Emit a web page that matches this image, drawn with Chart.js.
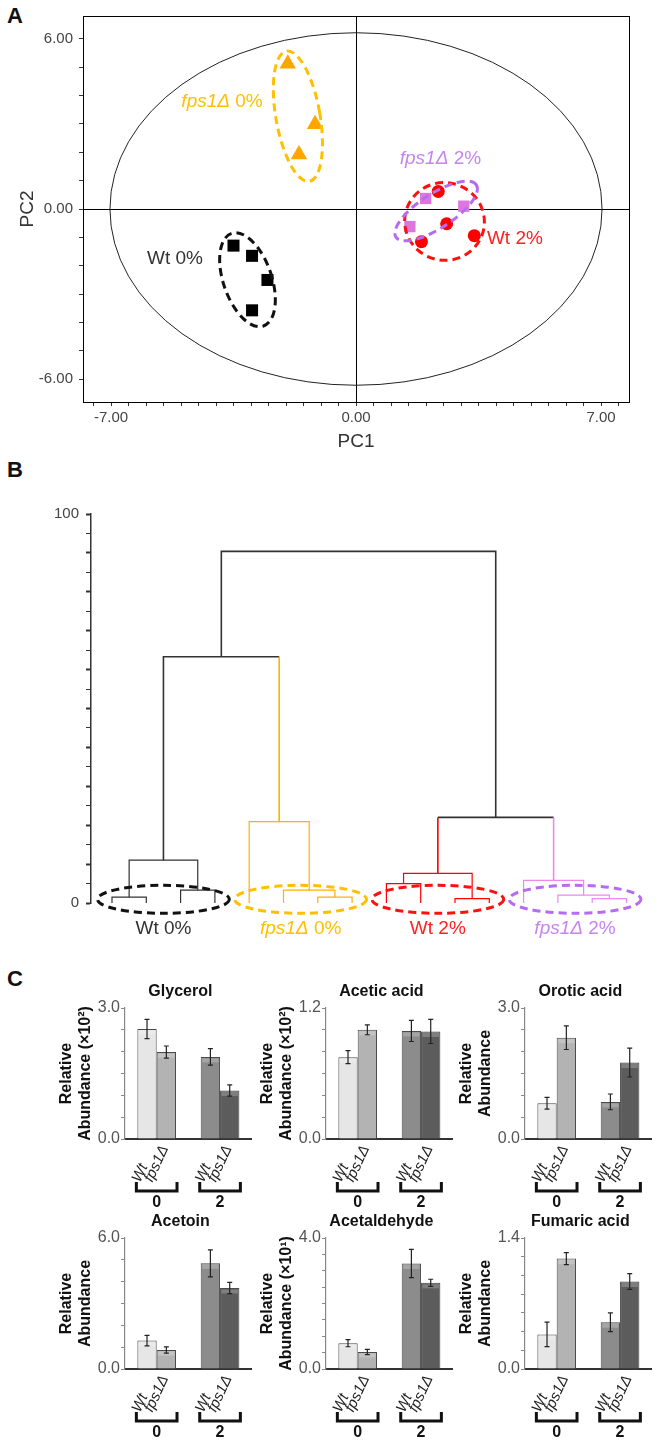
<!DOCTYPE html>
<html lang="en">
<head>
<meta charset="UTF-8">
<title>PCA, HCA and metabolite abundance</title>
<script src="https://cdn.jsdelivr.net/npm/chart.js"></script>
<style>
  body { margin: 0; width: 672px; height: 1443px; overflow: hidden; background: #fff; position: relative;
         font-family: "Liberation Sans", Arial, sans-serif; }
  .box { position: absolute; }
  .tag { position: absolute; font-weight: bold; font-size: 22px; color: #111; }
</style>
</head>
<body>
<div class="tag" style="left:7px;top:3px">A</div>
<div class="tag" style="left:7px;top:457px">B</div>
<div class="tag" style="left:7px;top:966px">C</div>

<div class="box" style="left:0;top:0"><canvas id="pca" width="672" height="455"></canvas></div>
<div class="box" style="left:0;top:480px"><canvas id="dendro" width="672" height="470"></canvas></div>
<div class="box" style="left:50px;top:980px"><canvas id="bar0" width="222" height="234"></canvas></div>
<div class="box" style="left:251px;top:980px"><canvas id="bar1" width="222" height="234"></canvas></div>
<div class="box" style="left:450px;top:980px"><canvas id="bar2" width="222" height="234"></canvas></div>
<div class="box" style="left:50px;top:1210px"><canvas id="bar3" width="222" height="234"></canvas></div>
<div class="box" style="left:251px;top:1210px"><canvas id="bar4" width="222" height="234"></canvas></div>
<div class="box" style="left:450px;top:1210px"><canvas id="bar5" width="222" height="234"></canvas></div>

<script>
// ---------- data ----------
// A: PCA scores (PC1, PC2) per sample
const groupStrain = ["Wt", "fps1Δ", "Wt", "fps1Δ"];
const groupPct = ["0%", "0%", "2%", "2%"];
const wt0PC1 = [-3.50, -2.97, -2.53, -2.97];
const wt0PC2 = [-1.29, -1.65, -2.50, -3.57];
const fps0PC1 = [-1.95, -1.17, -1.63];
const fps0PC2 = [5.12, 2.99, 1.92];
const wt2PC1 = [2.35, 2.59, 3.38, 1.87];
const wt2PC2 = [0.62, -0.52, -0.94, -1.15];
const fps2PC1 = [1.99, 3.08, 1.54];
const fps2PC2 = [0.37, 0.10, -0.62];
const pcaLabelX = [-7, 0, 7];
const pcaLabelY = [-6, 0, 6];
const pcaTicksX = [-7.5, -7, -6.5, -6, -5.5, -5, -4.5, -4, -3.5, -3, -2.5, -2, -1.5, -1, -0.5, 0,
                   0.5, 1, 1.5, 2, 2.5, 3, 3.5, 4, 4.5, 5, 5.5, 6, 6.5, 7, 7.5];
const pcaTicksY = [-6, -5, -4, -3, -2, -1, 0, 1, 2, 3, 4, 5, 6];
// Hotelling T2 ellipse half axes (PC1, PC2)
const t2Half = [7.03, 6.21];
// group ellipses (Wt 0, fps1 0, Wt 2, fps1 2): centre, half axes in PC1 units, tilt (deg)
const ellCx = [-3.10, -1.66, 2.53, 2.29];
const ellCy = [-2.49, 3.27, -0.44, -0.07];
const ellA = [0.69, 0.63, 1.14, 1.37];
const ellB = [1.40, 1.89, 1.11, 0.49];
const ellTilt = [-19, -10, 10, -33];

// B: dendrogram (16 samples, merges listed in order, new node ids start at 16)
const leafGroup = [0, 0, 0, 0, 1, 1, 1, 1, 2, 2, 2, 2, 3, 3, 3, 3];
const mergeA = [0, 2, 16, 6, 5, 4, 8, 10, 22, 14, 13, 12, 18, 24, 28];
const mergeB = [1, 3, 17, 7, 19, 20, 9, 11, 23, 15, 25, 26, 21, 27, 29];
const mergeH = [1.5, 3.3, 11.0, 1.5, 3.3, 20.9, 5.0, 1.1, 7.6, 1.1, 2.0, 5.8, 63.3, 22.0, 90.4];
const dendroLabels = [0, 100];

// C: relative abundance, order Wt 0, fps1Δ 0, Wt 2, fps1Δ 2
const metabolites = ["Glycerol", "Acetic acid", "Orotic acid", "Acetoin", "Acetaldehyde", "Fumaric acid"];
const units = ["(×10²)", "(×10²)", "", "", "(×10¹)", ""];
const axisMax = [3.0, 1.2, 3.0, 6.0, 4.0, 1.4];
const axisStep = [0.5, 0.2, 0.5, 1.0, 0.5, 0.2];
const means = [
  [2.52, 1.99, 1.88, 1.11],
  [0.75, 1.00, 0.99, 0.985],
  [0.82, 2.32, 0.85, 1.75],
  [1.30, 0.87, 4.84, 3.71],
  [0.79, 0.52, 3.22, 2.63],
  [0.37, 1.18, 0.50, 0.935]
];
const errs = [
  [0.22, 0.14, 0.19, 0.13],
  [0.06, 0.045, 0.097, 0.11],
  [0.135, 0.27, 0.18, 0.33],
  [0.24, 0.14, 0.62, 0.26],
  [0.11, 0.08, 0.43, 0.11],
  [0.13, 0.064, 0.10, 0.085]
];
const ethanol = ["0", "2"];
const strains = ["Wt", "fps1Δ"];

// ---------- styling ----------
const FONT = "'Liberation Sans', Arial, sans-serif";
Chart.defaults.font.family = FONT;
Chart.defaults.animation = false;
Chart.defaults.events = [];
Chart.defaults.plugins.legend.display = false;
Chart.defaults.plugins.tooltip.enabled = false;

const groupColor = ["#000000", "#FFA500", "#FF0000", "#DD77DD"];
const ringColor = ["#111111", "#FFC000", "#FF1010", "#B56CF2"];
const textColor = ["#333333", "#FFC000", "#FF2020", "#C585F0"];
const lineColor = ["#333333", "#FFB000", "#FF0000", "#EE88EE"];
const markers = ["rect", "triangle", "circle", "rect"];
const markerSize = [8.5, 9.5, 6.5, 8];

function drawGroupText(ctx, g, x, y, size, align) {
  const it = "italic " + size + "px " + FONT;
  const up = size + "px " + FONT;
  const first = groupStrain[g];
  const rest = " " + groupPct[g];
  const firstFont = first === "Wt" ? up : it;
  ctx.font = firstFont;
  const w1 = ctx.measureText(first).width;
  ctx.font = up;
  const w2 = ctx.measureText(rest).width;
  const x0 = align === "center" ? x - (w1 + w2) / 2 : x;
  ctx.fillStyle = textColor[g];
  ctx.textBaseline = "middle";
  ctx.textAlign = "left";
  ctx.font = firstFont;
  ctx.fillText(first, x0, y);
  ctx.font = up;
  ctx.fillText(rest, x0 + w1, y);
}

// ---------- A: PCA ----------
const pcaX = [wt0PC1, fps0PC1, wt2PC1, fps2PC1];
const pcaY = [wt0PC2, fps0PC2, wt2PC2, fps2PC2];
const pcaTextPos = [[-5.97, -1.77], [-4.99, 3.79], [3.74, -1.06], [1.25, 1.77]];

const pcaDecor = {
  id: "pcaDecor",
  beforeDatasetsDraw(chart) {
    const { ctx, scales: { x, y } } = chart;
    const cx = x.getPixelForValue(0), cy = y.getPixelForValue(0);
    ctx.save();
    ctx.strokeStyle = "#222";
    ctx.lineWidth = 1;
    ctx.beginPath();
    ctx.ellipse(cx, cy, x.getPixelForValue(t2Half[0]) - cx, cy - y.getPixelForValue(t2Half[1]), 0, 0, Math.PI * 2);
    ctx.stroke();
    ctx.restore();
  },
  afterDatasetsDraw(chart) {
    const { ctx, scales: { x, y } } = chart;
    const unit = x.getPixelForValue(1) - x.getPixelForValue(0);
    ctx.save();
    ctx.lineWidth = 3;
    ctx.setLineDash([8, 5]);
    for (let g = 0; g < 4; g++) {
      ctx.strokeStyle = ringColor[g];
      ctx.beginPath();
      ctx.ellipse(x.getPixelForValue(ellCx[g]), y.getPixelForValue(ellCy[g]),
        ellA[g] * unit, ellB[g] * unit, ellTilt[g] * Math.PI / 180, 0, Math.PI * 2);
      ctx.stroke();
    }
    ctx.setLineDash([]);
    for (let g = 0; g < 4; g++) {
      drawGroupText(ctx, g, x.getPixelForValue(pcaTextPos[g][0]), y.getPixelForValue(pcaTextPos[g][1]), 19, "left");
    }
    const a = chart.chartArea;
    ctx.strokeStyle = "#000";
    ctx.lineWidth = 1;
    ctx.strokeRect(a.left + 0.5, a.top + 0.5, a.right - a.left, a.bottom - a.top);
    ctx.restore();
  }
};

new Chart(document.getElementById("pca"), {
  type: "scatter",
  data: {
    datasets: pcaX.map((xs, g) => ({
      data: xs.map((v, i) => ({ x: v, y: pcaY[g][i] })),
      pointStyle: markers[g],
      pointRadius: markerSize[g],
      backgroundColor: groupColor[g],
      borderColor: groupColor[g],
      borderWidth: 0
    }))
  },
  options: {
    responsive: false,
    layout: { padding: { left: 0, right: 43, top: 16, bottom: 0 } },
    scales: {
      x: {
        type: "linear", min: -7.8, max: 7.8,
        afterBuildTicks: s => { s.ticks = pcaTicksX.map(v => ({ value: v })); },
        afterFit: s => { s.height = 53; },
        grid: { color: c => (c.tick && c.tick.value === 0 ? "#000" : "rgba(0,0,0,0)"), tickColor: "#333", tickLength: 4 },
        border: { color: "#000" },
        ticks: { autoSkip: false, maxRotation: 0, padding: 3, color: "#444", font: { size: 15 },
                 callback: v => (pcaLabelX.includes(v) ? v.toFixed(2) : "") },
        title: { display: true, text: "PC1", color: "#333", font: { size: 19 }, padding: { top: 0, bottom: 2 } }
      },
      y: {
        type: "linear", min: -6.8, max: 6.8,
        afterBuildTicks: s => { s.ticks = pcaTicksY.map(v => ({ value: v })); },
        afterFit: s => { s.width = 83; },
        grid: { color: c => (c.tick && c.tick.value === 0 ? "#000" : "rgba(0,0,0,0)"), tickColor: "#333", tickLength: 4 },
        border: { color: "#000" },
        ticks: { autoSkip: false, padding: 6, color: "#444", font: { size: 15 },
                 callback: v => (pcaLabelY.includes(v) ? v.toFixed(2) : "") },
        title: { display: true, text: "PC2", color: "#333", font: { size: 19 }, padding: { top: 16, bottom: 0 } }
      }
    }
  },
  plugins: [pcaDecor]
});

// ---------- B: dendrogram ----------
const nodeX = leafGroup.map((g, i) => i);
const nodeH = leafGroup.map(() => 0);
const nodeG = leafGroup.slice();
mergeA.forEach((a, k) => {
  const b = mergeB[k];
  nodeX.push((nodeX[a] + nodeX[b]) / 2);
  nodeH.push(mergeH[k]);
  nodeG.push(nodeG[a] === nodeG[b] ? nodeG[a] : -1);
});
const colOf = g => (g < 0 ? "#333333" : lineColor[g]);
const dendroSets = mergeA.map((a, k) => {
  const b = mergeB[k], n = 16 + k;
  const cols = [colOf(nodeG[a]), colOf(nodeG[n]), colOf(nodeG[b])];
  return {
    data: [{ x: nodeX[a], y: nodeH[a] }, { x: nodeX[a], y: mergeH[k] },
           { x: nodeX[b], y: mergeH[k] }, { x: nodeX[b], y: nodeH[b] }],
    showLine: true, pointRadius: 0, borderWidth: nodeG[n] < 0 ? 1.6 : 1.2,
    borderColor: cols[1], segment: { borderColor: c => cols[c.p0DataIndex] }
  };
});
const groupCentre = [1.5, 5.5, 9.5, 13.5];
const ringHalfX = 1.92, ringHalfY = 3.6, ringMid = 0.95;

const dendroDecor = {
  id: "dendroDecor",
  afterDatasetsDraw(chart) {
    const { ctx, scales: { x, y } } = chart;
    const rx = x.getPixelForValue(ringHalfX) - x.getPixelForValue(0);
    const ry = y.getPixelForValue(0) - y.getPixelForValue(ringHalfY);
    ctx.save();
    ctx.lineWidth = 3;
    ctx.setLineDash([8, 5]);
    groupCentre.forEach((c, g) => {
      ctx.strokeStyle = ringColor[g];
      ctx.beginPath();
      ctx.ellipse(x.getPixelForValue(c), y.getPixelForValue(ringMid), rx, ry, 0, 0, Math.PI * 2);
      ctx.stroke();
    });
    ctx.setLineDash([]);
    groupCentre.forEach((c, g) => drawGroupText(ctx, g, x.getPixelForValue(c), chart.chartArea.bottom + 26, 19, "center"));
    ctx.restore();
  }
};

new Chart(document.getElementById("dendro"), {
  type: "scatter",
  data: { datasets: dendroSets },
  options: {
    responsive: false,
    layout: { padding: { left: 0, right: 22, top: 34, bottom: 47 } },
    scales: {
      x: { type: "linear", min: -0.612, max: 15.685, display: false },
      y: {
        type: "linear", min: 0, max: 100,
        afterFit: s => { s.width = 91; },
        grid: { drawOnChartArea: false, tickLength: 5, tickColor: "#333",
                tickWidth: c => (c.tick && c.tick.value % 10 === 0 ? 2 : 1) },
        border: { color: "#333", width: 1.5 },
        ticks: { stepSize: 5, autoSkip: false, padding: 7, color: "#444", font: { size: 15 },
                 callback: v => (dendroLabels.includes(v) ? String(v) : "") }
      }
    }
  },
  plugins: [dendroDecor]
});

// ---------- C: bar charts ----------
const barFill = [["#E6E6E6", "#8C8C8C"], ["#B3B3B3", "#5C5C5C"]];
const labelShift = [-7, -14];

const barDecor = {
  id: "barDecor",
  afterDatasetsDraw(chart, args, opts) {
    const { ctx, scales: { y } } = chart;
    const m = opts.idx;
    ctx.save();
    // highlight strip + error bars
    chart.data.datasets.forEach((ds, d) => {
      chart.getDatasetMeta(d).data.forEach((bar, c) => {
        const w = bar.width;
        ctx.fillStyle = "rgba(255,255,255,0.22)";
        ctx.fillRect(bar.x - w / 2 + 1.5, bar.y + 1.5, w - 3, 4);
        const k = c * 2 + d;
        const top = y.getPixelForValue(means[m][k] + errs[m][k]);
        const bot = y.getPixelForValue(means[m][k] - errs[m][k]);
        ctx.strokeStyle = "#222";
        ctx.lineWidth = 1.2;
        ctx.beginPath();
        ctx.moveTo(bar.x, top); ctx.lineTo(bar.x, bot);
        ctx.moveTo(bar.x - 2.5, top); ctx.lineTo(bar.x + 2.5, top);
        ctx.moveTo(bar.x - 2.5, bot); ctx.lineTo(bar.x + 2.5, bot);
        ctx.stroke();
      });
    });
    ctx.restore();
  },
  afterDraw(chart, args, opts) {
    const { ctx, chartArea } = chart;
    const base = chartArea.bottom;
    const ang = 65 * Math.PI / 180;
    ctx.save();
    ctx.font = "italic 15px " + FONT;
    ctx.fillStyle = "#222";
    ctx.textBaseline = "alphabetic";
    ctx.textAlign = "left";
    const m0 = chart.getDatasetMeta(0).data, m1 = chart.getDatasetMeta(1).data;
    [m0, m1].forEach((bars, d) => {
      bars.forEach(bar => {
        ctx.save();
        ctx.translate(bar.x + labelShift[d], base + 44);
        ctx.rotate(-ang);
        ctx.fillText(strains[d], 0, 0);
        ctx.restore();
      });
    });
    ctx.strokeStyle = "#111";
    ctx.lineWidth = 3;
    ethanol.forEach((e, c) => {
      const l = m0[c].x - m0[c].width / 2 - 1;
      const r = m1[c].x + m1[c].width / 2 + 1;
      const yb = base + 52;
      ctx.beginPath();
      ctx.moveTo(l, yb - 9); ctx.lineTo(l, yb); ctx.lineTo(r, yb); ctx.lineTo(r, yb - 9);
      ctx.stroke();
    });
    ctx.font = "bold 16px " + FONT;
    ctx.fillStyle = "#111";
    ctx.textAlign = "center";
    ctx.textBaseline = "middle";
    ctx.fillText(metabolites[opts.idx], (chartArea.left + chartArea.right) / 2 - 8, 12);
    ctx.restore();
  }
};

metabolites.forEach((name, m) => {
  new Chart(document.getElementById("bar" + m), {
    type: "bar",
    data: {
      labels: ethanol,
      datasets: strains.map((s, d) => ({
        label: s,
        data: [means[m][d], means[m][2 + d]],
        backgroundColor: barFill[d],
        borderColor: "#4A4A4A",
        borderWidth: 1,
        barPercentage: 1.0,
        categoryPercentage: 0.61
      }))
    },
    options: {
      responsive: false,
      layout: { padding: { left: 0, right: 6, top: 28, bottom: 0 } },
      plugins: { barDecor: { idx: m } },
      scales: {
        x: {
          afterFit: s => { s.height = 75; },
          grid: { display: false },
          border: { color: "#333", width: 2 },
          ticks: { padding: 46, color: "#111", font: { size: 16, weight: "bold" } }
        },
        y: {
          min: 0, max: axisMax[m],
          afterFit: s => { s.width = 75; },
          grid: { drawOnChartArea: false, tickLength: 4, tickColor: "#888" },
          border: { color: "#888", width: 1.2 },
          ticks: { stepSize: axisStep[m], autoSkip: false, padding: 1, color: "#555", font: { size: 16 },
                   callback: v => (Math.abs(v) < 1e-9 || Math.abs(v - axisMax[m]) < 1e-9 ? v.toFixed(1) : "") },
          title: { display: true, text: units[m] ? ["Relative", "Abundance " + units[m]] : ["Relative", "Abundance"],
                   color: "#111", font: { size: 16, weight: "bold", lineHeight: 1.2 }, padding: { top: 7, bottom: 0 } }
        }
      }
    },
    plugins: [barDecor]
  });
});
</script>
</body>
</html>
